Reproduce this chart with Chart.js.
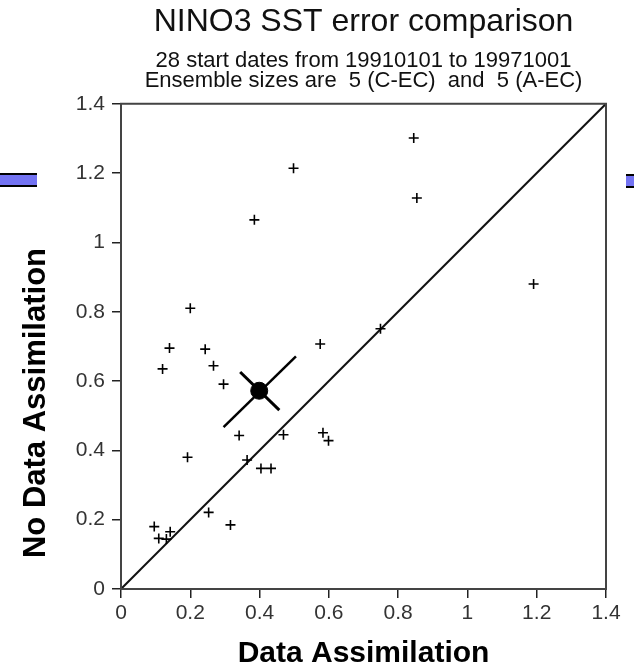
<!DOCTYPE html>
<html>
<head>
<meta charset="utf-8">
<script src="https://cdn.jsdelivr.net/npm/chart.js@4.4.1/dist/chart.umd.min.js"></script>
<style>
  body { margin: 0; background: #fff; }
  #wrap { position: relative; width: 634px; height: 669px; }
  .tab { position: absolute; height: 10px; background: #7373f2; border-top: 2px solid #000; border-bottom: 2px solid #000; }
</style>
</head>
<body>
<div id="wrap">
  <canvas id="chart" width="634" height="669"></canvas>
  <div class="tab" style="left:0; top:173px; width:37px"></div>
  <div class="tab" style="left:626px; top:174px; width:8px"></div>
</div>
<script>
// NINO3 SST error, with vs without data assimilation
const daErr   = [0.845, 0.498, 0.854, 1.191, 0.749, 0.575, 0.243, 0.267, 0.296, 0.341, 0.469, 0.583, 0.599, 0.364,
                 0.192, 0.404, 0.433, 0.253, 0.316, 0.096, 0.109, 0.131, 0.142, 0.200, 0.140, 0.120, 0.385];
const noDaErr = [1.301, 1.214, 1.128, 0.880, 0.751, 0.707, 0.692, 0.644, 0.591, 0.443, 0.445, 0.451, 0.428, 0.372,
                 0.380, 0.348, 0.348, 0.221, 0.185, 0.180, 0.146, 0.144, 0.165, 0.810, 0.695, 0.635, 1.065];

const meanX = [0.399];
const meanY = [0.572];
const spreadAX = [0.296, 0.505];
const spreadAY = [0.467, 0.671];
const spreadBX = [0.344, 0.457];
const spreadBY = [0.626, 0.516];
const diagonal = [0, 1.4];

const tickLabels = ['0', '0.2', '0.4', '0.6', '0.8', '1', '1.2', '1.4'];

const titleText = 'NINO3 SST error comparison';
const subtitleText = ['28 start dates from 19910101 to 19971001', 'Ensemble sizes are  5 (C-EC)  and  5 (A-EC)'];
const xTitle = 'Data Assimilation';
const yTitle = 'No Data Assimilation';

function pts(xs, ys) {
    return xs.map((x, i) => ({ x: x, y: ys[i] }));
}

// box round the plot
const frame = {
    id: 'frame',
    afterDatasetsDraw(chart) {
        const a = chart.chartArea;
        const ctx = chart.ctx;
        ctx.save();
        ctx.strokeStyle = '#444';
        ctx.lineWidth = 2;
        ctx.strokeRect(a.left, a.top, a.right - a.left, a.bottom - a.top);
        ctx.restore();
    }
};

// y title sits lower than the middle of the axis
const sideTitle = {
    id: 'sideTitle',
    afterDraw(chart) {
        const a = chart.chartArea;
        const ctx = chart.ctx;
        ctx.save();
        ctx.translate(a.left - 76, a.bottom - 186);
        ctx.rotate(-Math.PI / 2);
        ctx.font = 'bold 31px "Liberation Sans", Arial, sans-serif';
        ctx.fillStyle = '#000';
        ctx.textAlign = 'center';
        ctx.textBaseline = 'alphabetic';
        ctx.fillText(yTitle, 0, 0);
        ctx.restore();
    }
};

const tickFont = { family: '"Liberation Sans", Arial, sans-serif', size: 21 };

const ctx = document.getElementById('chart').getContext('2d');
const myChart = new Chart(ctx, {
    type: 'scatter',
    data: {
        datasets: [
            {
                label: 'start dates',
                data: pts(daErr, noDaErr),
                pointStyle: 'cross',
                pointRadius: 5,
                borderColor: '#000',
                borderWidth: 1.6
            },
            {
                label: 'one to one',
                data: pts(diagonal, diagonal),
                showLine: true,
                pointRadius: 0,
                borderColor: '#111',
                borderWidth: 2
            },
            {
                label: 'spread a',
                data: pts(spreadAX, spreadAY),
                showLine: true,
                pointRadius: 0,
                borderColor: '#000',
                borderWidth: 2.5
            },
            {
                label: 'spread b',
                data: pts(spreadBX, spreadBY),
                showLine: true,
                pointRadius: 0,
                borderColor: '#000',
                borderWidth: 3
            },
            {
                label: 'mean',
                data: pts(meanX, meanY),
                pointStyle: 'circle',
                pointRadius: 8.5,
                backgroundColor: '#000',
                borderColor: '#000',
                borderWidth: 1
            }
        ]
    },
    options: {
        responsive: false,
        animation: false,
        events: [],
        layout: { padding: { left: 0, right: 28, top: 0, bottom: 0 } },
        plugins: {
            legend: { display: false },
            tooltip: { enabled: false },
            title: {
                display: true,
                text: titleText,
                fullSize: false,
                color: '#111',
                font: { family: '"Liberation Sans", Arial, sans-serif', size: 32, weight: 'normal', lineHeight: 1.2 },
                padding: { top: 3, bottom: 9 }
            },
            subtitle: {
                display: true,
                text: subtitleText,
                fullSize: false,
                color: '#111',
                font: { family: '"Liberation Sans", Arial, sans-serif', size: 22, lineHeight: 0.94 },
                padding: { top: 0, bottom: 12 }
            }
        },
        scales: {
            x: {
                type: 'linear',
                min: 0,
                max: 1.4,
                afterFit(scale) { scale.height = 80; },
                ticks: {
                    stepSize: 0.2,
                    padding: 3,
                    color: '#333',
                    font: tickFont,
                    maxRotation: 0,
                    callback: (v, i) => tickLabels[i]
                },
                grid: { drawOnChartArea: false, tickLength: 9, color: '#222', lineWidth: 1.5 },
                border: { display: false },
                title: {
                    display: true,
                    text: xTitle,
                    color: '#000',
                    font: { family: '"Liberation Sans", Arial, sans-serif', size: 30, weight: 'bold', lineHeight: 1.05 },
                    padding: { top: 0, bottom: 0 }
                }
            },
            y: {
                type: 'linear',
                min: 0,
                max: 1.4,
                afterFit(scale) { scale.width = 121; },
                ticks: {
                    stepSize: 0.2,
                    padding: 7,
                    color: '#333',
                    font: tickFont,
                    callback: (v, i) => tickLabels[i]
                },
                grid: { drawOnChartArea: false, tickLength: 9, color: '#222', lineWidth: 1.5 },
                border: { display: false }
            }
        }
    },
    plugins: [frame, sideTitle]
});
</script>
</body>
</html>
